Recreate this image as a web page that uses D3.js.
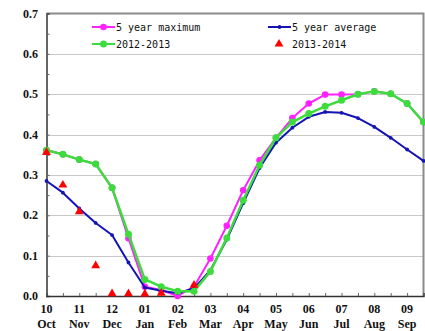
<!DOCTYPE html>
<html>
<head>
<meta charset="utf-8">
<script src="https://cdn.jsdelivr.net/npm/d3@7"></script>
<style>
  body { margin: 0; background: #fff; }
</style>
</head>
<body>
<script>
// chart size and plot margins
var w = 425;
var h = 331;
var margin = {top: 13.5, right: 1.5, bottom: 35, left: 46.5};

// month labels (two lines under each major tick)
var monthNums = ["10", "11", "12", "01", "02", "03", "04", "05", "06", "07", "08", "09"];
var monthNames = ["Oct", "Nov", "Dec", "Jan", "Feb", "Mar", "Apr", "May", "Jun", "Jul", "Aug", "Sep"];
var yTicks = [0, 0.1, 0.2, 0.3, 0.4, 0.5, 0.6, 0.7];

// values every half month, starting at 1 Oct
var maxValues = [0.361, 0.351, 0.338, 0.327, 0.268, 0.143, 0.023, 0.015, 0.0, 0.023, 0.093, 0.174,
                 0.262, 0.336, 0.392, 0.441, 0.477, 0.499, 0.499, 0.500, 0.507, 0.501, 0.477, 0.431];
var avgValues = [0.285, 0.256, 0.217, 0.181, 0.151, 0.083, 0.021, 0.013, 0.007, 0.019, 0.064, 0.140,
                 0.230, 0.317, 0.380, 0.417, 0.444, 0.456, 0.454, 0.441, 0.419, 0.392, 0.363, 0.335];
var y1213Values = [0.361, 0.351, 0.338, 0.327, 0.268, 0.153, 0.041, 0.023, 0.012, 0.012, 0.061, 0.144,
                   0.237, 0.324, 0.392, 0.431, 0.452, 0.470, 0.485, 0.500, 0.507, 0.501, 0.477, 0.431];
var y1314Values = [0.356, 0.275, 0.209, 0.075, 0.006, 0.006, 0.005, 0.007, null, 0.027];

var x = d3.scaleLinear().domain([0, 23]).range([margin.left, w - margin.right]);
var y = d3.scaleLinear().domain([0, 0.7]).range([h - margin.bottom, margin.top]);

var svg = d3.select("body")
    .append("svg")
    .attr("width", w)
    .attr("height", h);

// horizontal grid
svg.append("g")
    .selectAll("line")
    .data(yTicks.slice(1, -1))
    .enter()
    .append("line")
    .attr("x1", x(0))
    .attr("x2", x(23))
    .attr("y1", function(d) { return Math.round(y(d)) + 0.5; })
    .attr("y2", function(d) { return Math.round(y(d)) + 0.5; })
    .attr("stroke", "#c8c8c8")
    .attr("stroke-width", 1);

// top and right frame
svg.append("path")
    .attr("d", "M" + x(0) + "," + y(0.7) + "H" + x(23) + "V" + y(0))
    .attr("fill", "none")
    .attr("stroke", "#8a8a8a")
    .attr("stroke-width", 2);

// y axis, ticks inside
var yAxis = d3.axisRight(y)
    .tickValues(d3.range(0, 0.701, 0.05))
    .tickSize(3)
    .tickFormat("");
var gy = svg.append("g")
    .attr("transform", "translate(" + x(0) + ",0)")
    .call(yAxis);
gy.select(".domain").attr("stroke", "#333").attr("stroke-width", 1.5);
gy.selectAll(".tick line").attr("stroke", "#666");

svg.append("g")
    .selectAll("text")
    .data(yTicks)
    .enter()
    .append("text")
    .attr("x", 38)
    .attr("y", function(d) { return y(d) + 4; })
    .attr("text-anchor", "end")
    .style("font-family", "'Liberation Serif', serif")
    .style("font-weight", "bold")
    .style("font-size", "12px")
    .style("fill", "#111")
    .text(function(d) { return d.toFixed(1); });

// x axis, ticks inside at every half month
var xAxis = d3.axisTop(x)
    .tickValues(d3.range(0, 24, 1))
    .tickSize(3)
    .tickFormat("");
var gx = svg.append("g")
    .attr("transform", "translate(0," + y(0) + ")")
    .call(xAxis);
gx.select(".domain").attr("stroke", "#333").attr("stroke-width", 1.5);
gx.selectAll(".tick line").attr("stroke", "#666");

var xl = svg.append("g")
    .selectAll("g")
    .data(monthNums)
    .enter()
    .append("g")
    .style("font-family", "'Liberation Serif', serif")
    .style("font-weight", "bold")
    .style("font-size", "12px")
    .style("fill", "#111")
    .attr("text-anchor", "middle");
xl.append("text")
    .attr("x", function(d, i) { return x(i * 2); })
    .attr("y", 313)
    .text(function(d) { return d; });
xl.append("text")
    .attr("x", function(d, i) { return x(i * 2); })
    .attr("y", 328)
    .text(function(d, i) { return monthNames[i]; });

// series
var line = d3.line()
    .defined(function(d) { return d != null; })
    .x(function(d, i) { return x(i); })
    .y(function(d) { return y(d); });

function drawSeries(values, color, width, r) {
    svg.append("path")
        .datum(values)
        .attr("d", line)
        .attr("fill", "none")
        .attr("stroke", color)
        .attr("stroke-width", width)
        .attr("stroke-linejoin", "round");
    svg.append("g")
        .selectAll("circle")
        .data(values)
        .enter()
        .append("circle")
        .attr("cx", function(d, i) { return x(i); })
        .attr("cy", function(d) { return y(d); })
        .attr("r", r)
        .attr("fill", color);
}

drawSeries(maxValues, "#ff22ff", 2, 3.3);
drawSeries(avgValues, "#1414b4", 2, 1.9);
drawSeries(y1213Values, "#3ddc3d", 2.5, 3.5);

var tri = d3.symbol().type(d3.symbolTriangle).size(34);
svg.append("g")
    .selectAll("path")
    .data(y1314Values.map(function(v, i) { return {i: i, v: v}; }).filter(function(d) { return d.v != null; }))
    .enter()
    .append("path")
    .attr("d", tri)
    .attr("transform", function(d) { return "translate(" + x(d.i) + "," + y(d.v) + ")"; })
    .attr("fill", "#ff0000");

// legend
var legend = [
    {name: "5 year maximum", color: "#ff22ff", r: 3.3, lx: 92, ly: 27},
    {name: "5 year average", color: "#1414b4", r: 1.9, lx: 268, ly: 27},
    {name: "2012-2013", color: "#3ddc3d", r: 3.5, lx: 92, ly: 44},
    {name: "2013-2014", color: "#ff0000", r: 0, lx: 268, ly: 44}
];
var lg = svg.append("g")
    .selectAll("g")
    .data(legend)
    .enter()
    .append("g");
lg.filter(function(d) { return d.r > 0; })
    .append("line")
    .attr("x1", function(d) { return d.lx; })
    .attr("x2", function(d) { return d.lx + 23; })
    .attr("y1", function(d) { return d.ly; })
    .attr("y2", function(d) { return d.ly; })
    .attr("stroke", function(d) { return d.color; })
    .attr("stroke-width", 2);
lg.filter(function(d) { return d.r > 0; })
    .append("circle")
    .attr("cx", function(d) { return d.lx + 11.5; })
    .attr("cy", function(d) { return d.ly; })
    .attr("r", function(d) { return d.r; })
    .attr("fill", function(d) { return d.color; });
lg.filter(function(d) { return d.r === 0; })
    .append("path")
    .attr("d", tri)
    .attr("transform", function(d) { return "translate(" + (d.lx + 11) + "," + d.ly + ")"; })
    .attr("fill", "#ff0000");
lg.append("text")
    .attr("x", function(d) { return d.lx + 24; })
    .attr("y", function(d) { return d.ly + 4; })
    .style("font-family", "'DejaVu Sans Mono', monospace")
    .style("font-size", "10px")
    .style("fill", "#111")
    .text(function(d) { return d.name; });
</script>
</body>
</html>
